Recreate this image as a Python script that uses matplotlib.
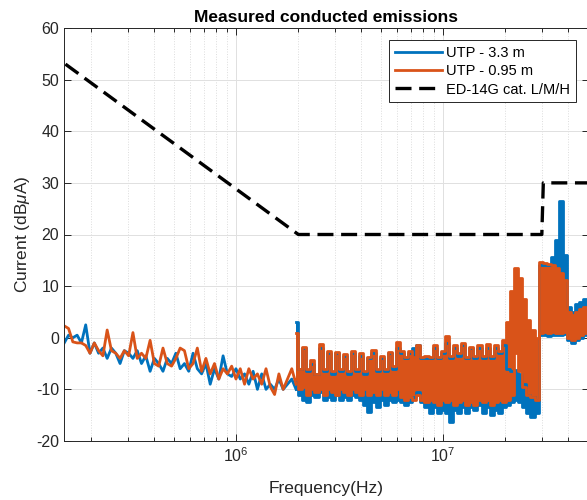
import numpy as np
import matplotlib.pyplot as plt

plt.rcParams['font.family'] = ['Liberation Sans', 'DejaVu Sans']
plt.rcParams['mathtext.fontset'] = 'custom'
plt.rcParams['mathtext.rm'] = 'Liberation Sans'
plt.rcParams['mathtext.it'] = 'Liberation Sans:italic'
plt.rcParams['axes.unicode_minus'] = False

# Цвета MATLAB.
c_blue = '#0072BD'
c_orange = '#D95319'
c_ax = '#262626'

# Низкочастотный участок: отдельные линии (1.48e5 ... 1.95e6 Гц).
f_line = np.geomspace(1.48e5, 1.95e6, 55)
blue_line = [-1, 0.5, 0, 0.5, -1, 2.5, -3, -1, -3, -2, -4, -2, -3, -5, -2.5, -3, -4, -2.5,
             -5, -3.5, -6.5, -4, -5, -6.5, -4, -5, -3, -6, -5, -6.5, -3, -6, -7, -5, -9, -6,
             -8, -3.5, -7, -7.5, -6, -8, -7, -9, -6.5, -10, -7, -10, -9, -10, -8, -10, -9, -8, -10]
orange_line = [2.3, 1.8, -0.8, -1, -1, -1.5, -3, -1, -2.5, -3.5, 1.5, -2.5, -3, -4, -2.5, -3.5,
               1, -4, -3, -4, -0.5, -5, -5.5, -2, -5, -5.5, -4, -2, -2.5, -6, -5, -2, -6.5, -4,
               -7, -5, -8, -6, -7, -5.5, -8, -6, -9, -6, -8, -7, -9, -6, -9.5, -11, -7, -10, -8,
               -6, -9]

# Высокочастотный участок: огибающие плотного спектра (1.95e6 ... 5.1e7 Гц).
f_band = np.geomspace(1.95e6, 5.1e7, 73)
orange_top = [1.0, -6, -1.8, -6, -4.4, -7, -1.2, -6, -2.5, -6.5, -2.8, -6, -3.2, -6.5, -2.6, -6,
              -3, -6.5, -3.8, -2.4, -6, -3.5, -6, -2.8, -5.5, -0.9, -2.5, -3.8, -2.5, -3.8, -1.5,
              -3.8, -3.5, -3.8, -1.5, -3.8, -2.5, 0.4, -3.5, -1.5, -3, -1, -3.8, -1.8, -3.5, -1.5,
              -3.5, -1.2, -3.5, -1.5, -2.5, -0.5, 3.0, 9.0, 13.5, 11.5, 7.5, 3.5, 1.5, 0,
              14.7, 14.5, 14.3, 14.0, 13.5, 12.5, 11.2, 5.0, 4.5, 5.0, 5.5, 6.0, 6.5]
orange_bot = [-8, -10, -9.5, -11, -10, -10.5, -10, -11, -10, -10.5, -11, -10, -10.5, -11, -10,
              -10.5, -11, -10, -11, -10.5, -11, -10, -11, -10.5, -11, -10, -11.5, -12, -11.5, -12,
              -11, -12, -12.5, -12, -12.5, -13, -12, -12.5, -12, -13, -12.5, -12, -13, -12.5, -13,
              -12, -12.5, -12, -13, -12.5, -12, -12.5, -12, -11, -3.0, -6.5, -9.5, -11, -11.5, -12,
              1.0, 1.2, 1.0, 1.2, 1.0, 1.0, 1.2, 0, -0.5, 0, 0.5, 1.0, 1.0]
blue_top = [3.0, -6, -2, -6.5, -5, -7, -2, -6.5, -3, -7, -3, -6.5, -3.5, -7, -3, -6.5, -3.5, -7,
            -4, -3, -6.5, -4, -6.5, -3, -6, -2, -3, -4, -3, -2, -1.5, -4, -4, -4, -2, -4, -3, -1,
            -4, -2, -3.5, -1.5, -4, -2, -4, -2, -4, -2, -4, -2, -3, -1.5, -6, -6.5, -6.2, -7, -9,
            -11, -11.5, -12, 14, 14, 14, 15.7, 19, 26.5, 16, 6, 5, 6.5, 7, 7.5, 7.5]
blue_bot = [-10, -11, -12, -12.5, -11, -11.5, -10.5, -12, -11.5, -12, -11, -12, -11.5, -12, -11,
            -11.5, -12, -13, -14.4, -12.5, -13.5, -12, -13, -12, -12.5, -12, -12.5, -13, -12.5,
            -11.5, -10.5, -12.5, -13.5, -14.5, -13.5, -14.5, -14, -14.5, -16.3, -14, -14.5, -13.5,
            -14.5, -13.5, -14, -13, -14.5, -13.5, -15, -14, -14.5, -13.5, -13, -12.5, -12, -12.5,
            -13.5, -14.5, -15.3, -14.5, 0.5, 0.5, 0.3, 0.5, 0.5, 0.5, 0.8, -0.5, -1, -0.5, 0, 0.5,
            0.5]

# Предельная линия ED-14G.
f_lim = [1.5e5, 2e6, 3.0e7, 3.05e7, 1e8]
v_lim = [53, 20, 20, 30, 30]

fig = plt.figure(figsize=(5.87, 5.0), dpi=100)
ax = fig.add_axes([64 / 587, 59 / 500, 525 / 587, 413 / 500])

lw = 2
h_blue, = ax.plot(f_line, blue_line, color=c_blue, lw=lw, label='UTP - 3.3 m')
ax.fill_between(f_band, blue_bot, blue_top, step='mid', color=c_blue, lw=0)
ax.step(f_band, blue_top, where='mid', color=c_blue, lw=lw)
ax.step(f_band, blue_bot, where='mid', color=c_blue, lw=lw)

h_orange, = ax.plot(f_line, orange_line, color=c_orange, lw=lw, label='UTP - 0.95 m')
ax.fill_between(f_band, orange_bot, orange_top, step='mid', color=c_orange, lw=0)
ax.step(f_band, orange_top, where='mid', color=c_orange, lw=lw)
ax.step(f_band, orange_bot, where='mid', color=c_orange, lw=lw)

h_lim, = ax.plot(f_lim, v_lim, color='black', lw=2.4, linestyle=(0, (4.8, 2.3)),
                 label='ED-14G cat. L/M/H')

ax.set_xscale('log')
ax.set_xlim(1.476e5, 5.07e7)
ax.set_ylim(-20, 60)
ax.set_yticks(np.arange(-20, 61, 10))

ax.grid(True, which='major', color='#e0e0e0', lw=0.7)
ax.grid(True, which='minor', axis='x', color='#dcdcdc', lw=0.7, linestyle=':')
ax.set_axisbelow(True)

ax.tick_params(which='both', direction='in', top=True, right=True, colors=c_ax,
               labelsize=11.5)
ax.tick_params(which='major', length=5, width=0.7)
ax.tick_params(which='minor', length=3, width=0.7)
for s in ax.spines.values():
    s.set_color(c_ax)
    s.set_linewidth(0.7)

ax.set_title('Measured conducted emissions', fontsize=12.5, fontweight='bold', color='black', pad=4)
ax.set_xlabel('Frequency(Hz)', fontsize=12.5, color=c_ax, labelpad=12)
ax.set_ylabel(r'Current (dB$\mu$A)', fontsize=12.5, color=c_ax, labelpad=3)

leg = ax.legend(handles=[h_blue, h_orange, h_lim], loc='upper right',
                bbox_to_anchor=(0.975, 0.971), borderaxespad=0, fontsize=10.5,
                handlelength=3.2, handletextpad=0.3, labelspacing=0.3,
                fancybox=False, framealpha=1, edgecolor=c_ax, borderpad=0.4)
leg.get_frame().set_linewidth(0.7)

fig.savefig('out.png', dpi=100)
